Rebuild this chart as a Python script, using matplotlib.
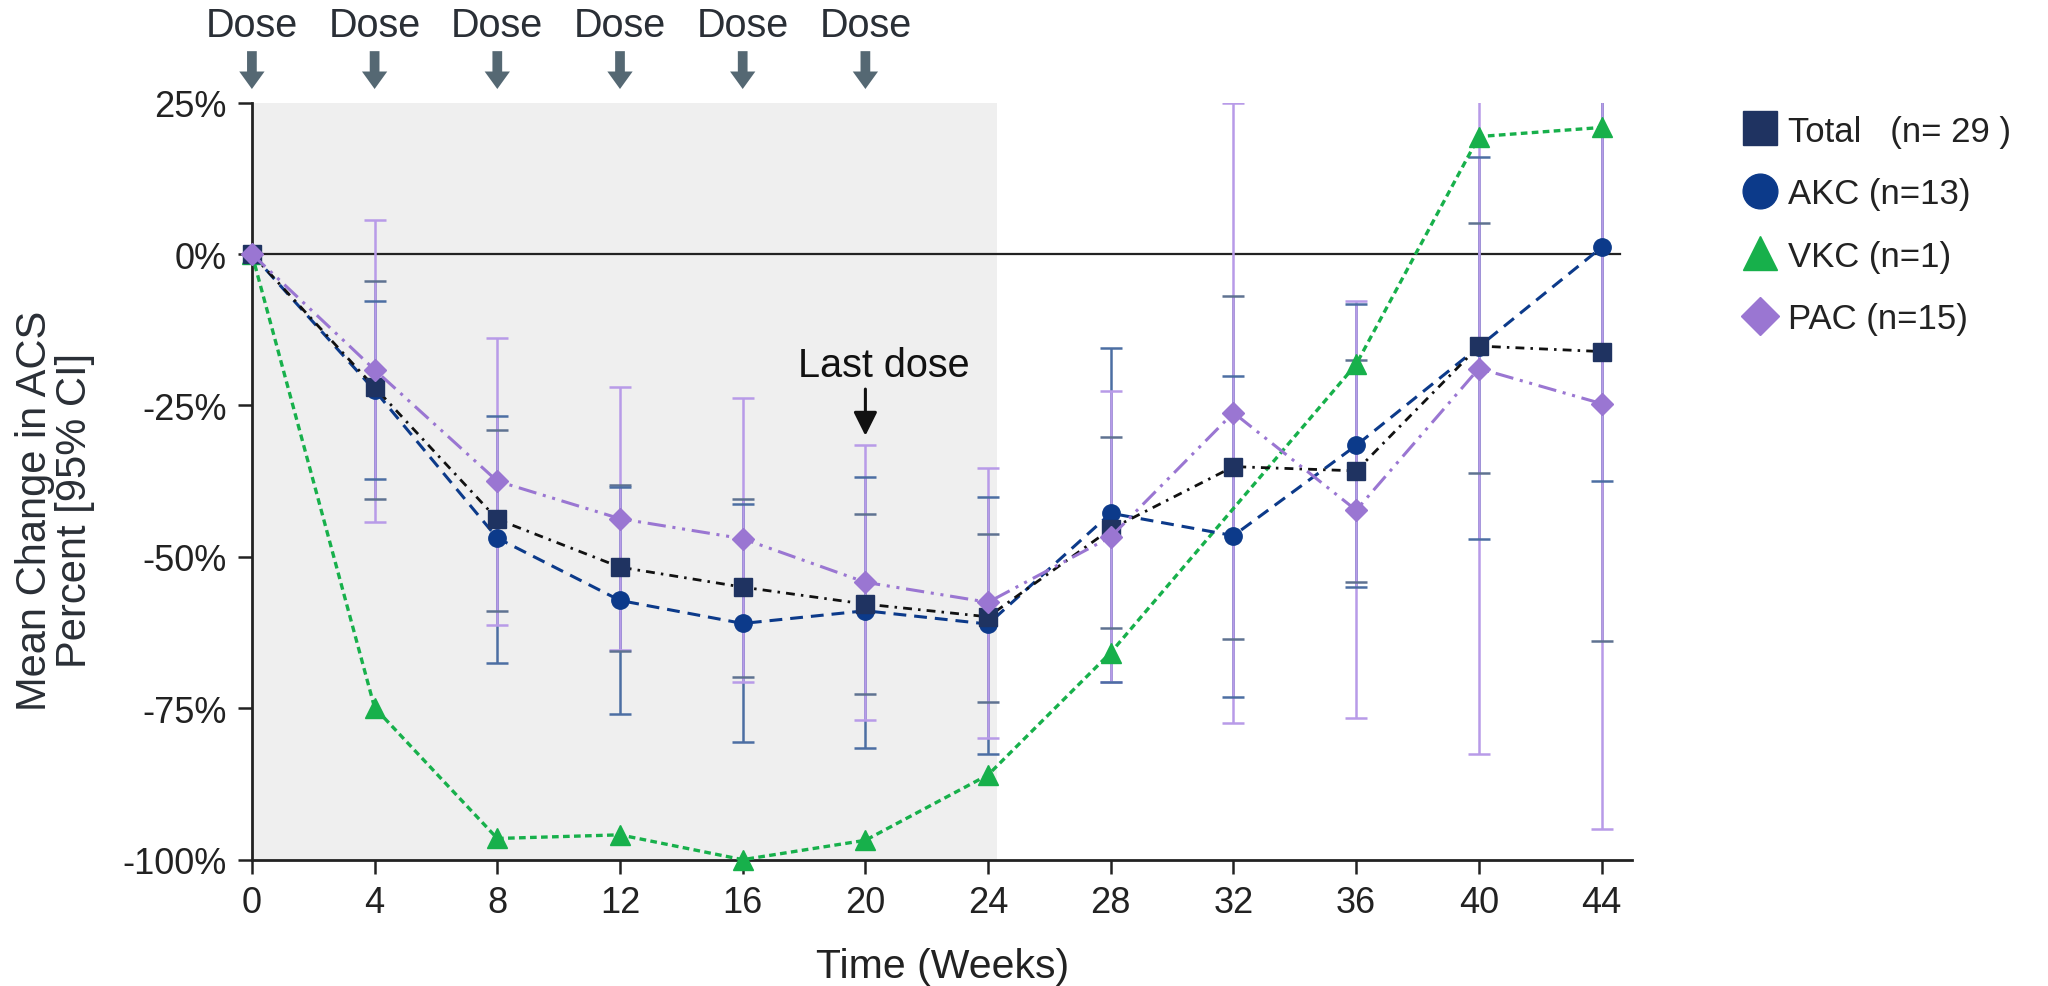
import numpy as np
import matplotlib
matplotlib.use("Agg")
import matplotlib.pyplot as plt
from matplotlib.lines import Line2D

plt.rcParams["font.family"] = ["Liberation Sans", "DejaVu Sans"]

# --- data ---
weeks = [0, 4, 8, 12, 16, 20, 24, 28, 32, 36, 40, 44]
ci_weeks = weeks[1:]

total_mean = [0, -22.0, -43.8, -51.7, -55.0, -57.8, -59.9, -45.4, -35.1, -35.8, -15.2, -16.1]
total_lo = [-40.4, -58.9, -65.6, -69.8, -72.6, -74.0, -61.7, -63.6, -54.1, -36.1, -63.9]
total_hi = [-4.4, -29.0, -38.1, -40.5, -42.9, -46.3, -30.2, -6.9, -17.5, 5.2, 31.7]

akc_mean = [0, -22.5, -46.9, -57.2, -61.0, -58.9, -61.1, -42.8, -46.5, -31.6, -15.3, 1.1]
akc_lo = [-37.1, -67.5, -76.0, -80.6, -81.6, -82.6, -70.6, -73.1, -55.0, -47.0, -37.5]
akc_hi = [-7.7, -26.7, -38.5, -41.3, -36.8, -40.1, -15.5, -20.2, -8.2, 16.1, 39.7]

# VKC has no week-32 value; the line joins 28 to 36
vkc_weeks = [0, 4, 8, 12, 16, 20, 24, 28, 36, 40, 44]
vkc_mean = [0, -74.9, -96.5, -95.9, -100.0, -96.8, -86.0, -65.8, -18.2, 19.4, 20.9]

pac_mean = [0, -19.1, -37.5, -43.7, -47.0, -54.2, -57.5, -46.7, -26.2, -42.3, -18.9, -24.7]
pac_lo = [-44.2, -61.3, -65.4, -70.7, -76.9, -79.9, -70.6, -77.4, -76.6, -82.5, -94.9]
pac_hi = [5.7, -13.9, -22.0, -23.8, -31.5, -35.3, -22.6, 24.9, -7.8, 44.7, 45.5]

dose_weeks = [0, 4, 8, 12, 16, 20]
last_dose_week = 20
dosing_end = 24.3

legend_labels = ["Total   (n= 29 )", "AKC (n=13)", "VKC (n=1)", "PAC (n=15)"]

# --- colours ---
C_TOTAL = "#1f3361"
C_AKC = "#0c3a8a"
C_VKC = "#17b04b"
C_PAC = "#9a76d2"
C_TOTAL_ERR = "#5f7291"
C_AKC_ERR = "#4c6ea3"
C_PAC_ERR = "#b89be8"
C_ARROW = "#556873"
C_TEXT = "#222222"


def _err(mean, lo, hi):
    m = np.asarray(mean[1:])
    return [m - np.asarray(lo), np.asarray(hi) - m]


fig = plt.figure(figsize=(20.48, 9.87), dpi=100)
ax = fig.add_axes([0.123, 0.128, 0.674, 0.767])

ax.axvspan(0, dosing_end, color="#efefef", zorder=0, lw=0)
ax.axhline(0, xmin=0, xmax=44.6 / 45, color="#222222", lw=1.6, zorder=1)

# error bars: blue ones under the purple line, caps on top
for mean, lo, hi, col in [(total_mean, total_lo, total_hi, C_TOTAL_ERR),
                          (akc_mean, akc_lo, akc_hi, C_AKC_ERR)]:
    eb = ax.errorbar(ci_weeks, mean[1:], yerr=_err(mean, lo, hi), fmt="none",
                     ecolor=col, elinewidth=1.8, capsize=8, capthick=1.8, zorder=2)
    for cap in eb[1]:
        cap.set_zorder(3.5)
ax.errorbar(ci_weeks, pac_mean[1:], yerr=_err(pac_mean, pac_lo, pac_hi), fmt="none",
            ecolor=C_PAC_ERR, elinewidth=1.8, capsize=8, capthick=1.8, zorder=3)

# mean lines
ax.plot(vkc_weeks, vkc_mean, color=C_VKC, lw=2.4, dashes=(2.0, 1.3),
        marker="^", ms=15, mfc=C_VKC, mec=C_VKC, zorder=4, clip_on=False)
ax.plot(weeks, akc_mean, color=C_AKC, lw=2.2, dashes=(4.2, 2.6),
        marker="o", ms=12.5, mfc=C_AKC, mec=C_AKC, zorder=5, clip_on=False)
ax.plot(weeks, total_mean, color="#111111", lw=2.0, dashes=(3.2, 2.2, 0.9, 2.2),
        marker="s", ms=12.5, mfc=C_TOTAL, mec=C_TOTAL, zorder=6, clip_on=False)
ax.plot(weeks, pac_mean, color=C_PAC, lw=2.2, dashes=(6.0, 2.2, 1.0, 2.2, 1.0, 2.2),
        marker="D", ms=11.5, mfc=C_PAC, mec=C_PAC, zorder=7, clip_on=False)

# axes styling
ax.set_xlim(0, 45)
ax.set_ylim(-100, 25)
ax.set_xticks(weeks)
ax.set_yticks([25, 0, -25, -50, -75, -100])
ax.set_yticklabels(["25%", "0%", "-25%", "-50%", "-75%", "-100%"])
ax.tick_params(axis="both", labelsize=26, length=10, width=1.8, colors=C_TEXT, pad=8)
for side in ["top", "right"]:
    ax.spines[side].set_visible(False)
for side in ["left", "bottom"]:
    ax.spines[side].set_linewidth(2.0)
    ax.spines[side].set_color("#222222")
ax.set_facecolor("none")

ax.set_xlabel("Time (Weeks)", fontsize=29.5, color=C_TEXT, labelpad=20)
ax.set_ylabel("Mean Change in ACS\nPercent [95% CI]", fontsize=30, color="#2a2f36",
              linespacing=1.0)
ax.yaxis.set_label_coords(-0.114, 0.462)

# dose markers above the plot
xt = ax.get_xaxis_transform()
for wk in dose_weeks:
    ax.annotate("", xy=(wk, 1.018), xytext=(wk, 1.068), xycoords=xt, textcoords=xt,
                arrowprops=dict(arrowstyle="simple,head_length=0.45,head_width=0.65,tail_width=0.25",
                                color=C_ARROW, lw=0, mutation_scale=28, shrinkA=0, shrinkB=0),
                annotation_clip=False)
    ax.text(wk, 1.102, "Dose", transform=xt, ha="center", va="center",
            fontsize=28.5, color="#2a2f36", clip_on=False)

# "Last dose" label with its own small arrow
ax.annotate("", xy=(last_dose_week, -30.0), xytext=(last_dose_week, -22.3),
            arrowprops=dict(arrowstyle="-|>,head_length=0.6,head_width=0.3",
                            color="#111111", lw=2.2, shrinkA=0, shrinkB=0,
                            mutation_scale=24))
ax.text(last_dose_week + 0.6, -18.3, "Last dose", ha="center", va="center",
        fontsize=28.5, color="#111111")

# legend: markers only
handles = [
    Line2D([], [], ls="none", marker="s", ms=25, mfc=C_TOTAL, mec=C_TOTAL),
    Line2D([], [], ls="none", marker="o", ms=25, mfc=C_AKC, mec=C_AKC),
    Line2D([], [], ls="none", marker="^", ms=25, mfc=C_VKC, mec=C_VKC),
    Line2D([], [], ls="none", marker="D", ms=19, mfc=C_PAC, mec=C_PAC),
]
fig.legend(handles, legend_labels, loc="upper left", bbox_to_anchor=(0.845, 0.897),
           frameon=False, fontsize=25, handlelength=0.9, handletextpad=0.35,
           labelspacing=0.85, borderaxespad=0, labelcolor=C_TEXT)

fig.savefig("out.png", dpi=100)
